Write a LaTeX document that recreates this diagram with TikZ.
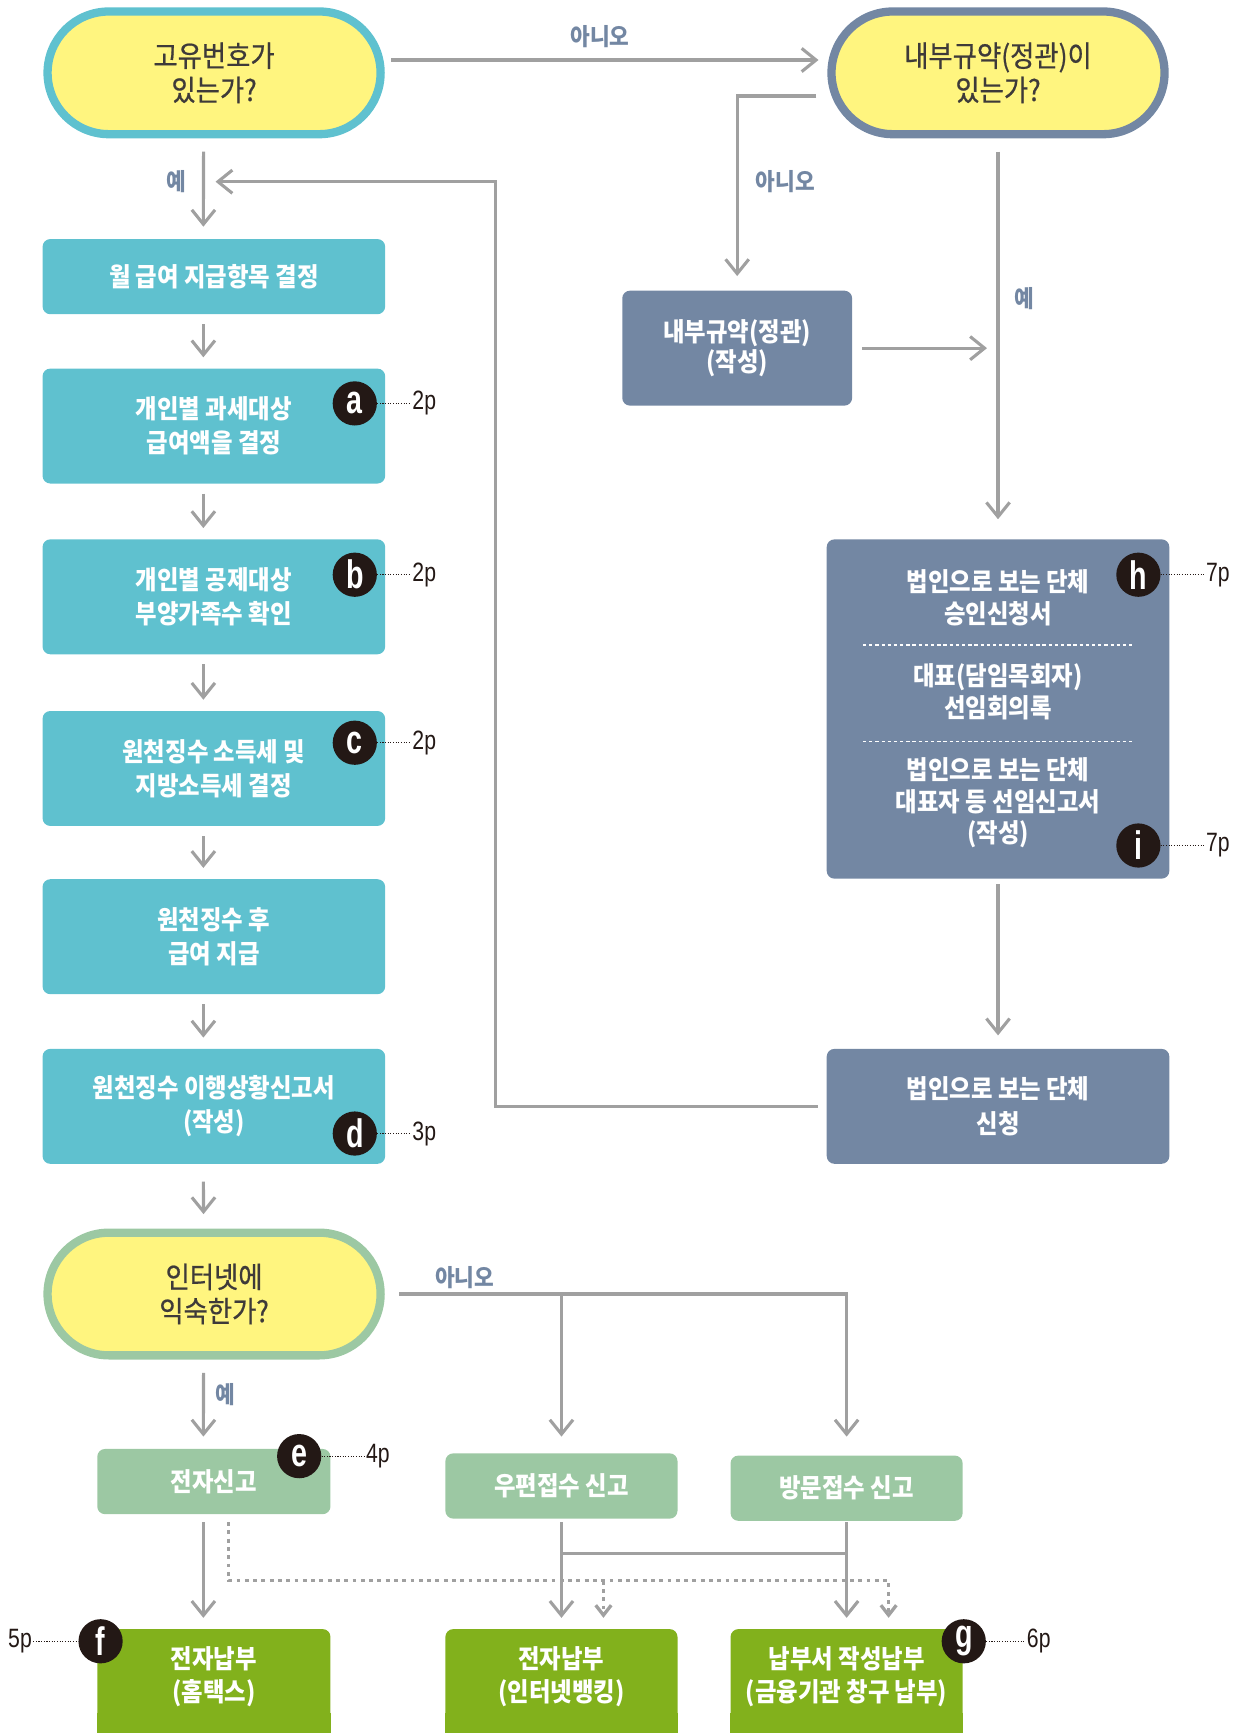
\documentclass[tikz,border=0pt]{standalone}
\usepackage{fontspec}
\usepackage{tikz}
\usetikzlibrary{arrows.meta,shapes.misc,calc}

\newfontfamily\krfont[FakeStretch=0.9]{Noto Sans CJK KR}
\newfontfamily\askfont[FakeStretch=0.9,FakeBold=0.6]{Noto Sans CJK KR}
\newfontfamily\pagefont[FakeStretch=0.8]{Liberation Sans}
\newfontfamily\tagfont[FakeStretch=0.72]{Liberation Sans}

\definecolor{stepcyan}{HTML}{5FC1CF}
\definecolor{slate}{HTML}{7387A3}
\definecolor{askyellow}{HTML}{FFF57F}
\definecolor{mint}{HTML}{9CC8A3}
\definecolor{leaf}{HTML}{82B11C}
\definecolor{linegray}{HTML}{A0A0A0}
\definecolor{ink}{HTML}{231815}
\definecolor{asktext}{HTML}{3E3A39}

\tikzset{
  ask/.style={rounded rectangle, fill=askyellow, line width=7.5pt,
    minimum width=308pt, minimum height=111pt, align=center, text=asktext,
    font=\askfont\fontsize{26.5}{31}\selectfont},
  stepbox/.style={rectangle, rounded corners=7pt, fill=stepcyan, text=white,
    minimum width=310pt, minimum height=104pt, align=center,
    font=\krfont\bfseries\fontsize{23.5}{31}\selectfont},
  filebox/.style={stepbox, fill=mint, minimum width=210pt, minimum height=59pt},
  paybox/.style={stepbox, fill=leaf, minimum width=210pt, minimum height=86pt,
    font=\krfont\bfseries\fontsize{23.5}{30}\selectfont},
  answer/.style={text=slate, font=\krfont\bfseries\fontsize{21.5}{21.5}\selectfont},
  conn/.style={draw=linegray, line width=2.8pt},
  arr/.style={conn, -{Straight Barb[length=13pt,width=21pt]}},
  dotarr/.style={draw=linegray, line width=3pt, dash pattern=on 3.5pt off 4pt,
    -{Straight Barb[length=9pt,width=14pt]}},
  tag/.style={circle, fill=ink, text=white, minimum size=40pt, inner sep=0pt,
    font=\tagfont\bfseries\fontsize{36}{36}\selectfont},
  pg/.style={text=ink, inner sep=1pt, font=\pagefont\fontsize{24}{24}\selectfont},
  lead/.style={draw=ink, line width=0.9pt, dash pattern=on 1pt off 1.4pt},
  sep/.style={draw=white, line width=1.4pt, dash pattern=on 3pt off 2.6pt}
}

\begin{document}
\begin{tikzpicture}[x=1pt,y=-1pt]
\useasboundingbox (0,0) rectangle (1124,1568);
\clip (0,0) rectangle (1124,1568);

% Questions
\node[ask, draw=stepcyan] (q1) at (193.7,65.9) {고유번호가\\있는가?};
\node[ask, draw=slate] (q2) at (903,65.9) {내부규약(정관)이\\있는가?};
\node[ask, draw=mint] (q3) at (193.7,1170.8) {인터넷에\\익숙한가?};

% Left column steps
\node[stepbox, minimum height=68pt] (b1) at (193.5,250.3) {월 급여 지급항목 결정};
\node[stepbox] (b2) at (193.5,385.5) {개인별 과세대상\\급여액을 결정};
\node[stepbox] (b3) at (193.5,540) {개인별 공제대상\\부양가족수 확인};
\node[stepbox] (b4) at (193.5,695.3) {원천징수 소득세 및\\지방소득세 결정};
\node[stepbox] (b5) at (193.5,847.5) {원천징수 후\\급여 지급};
\node[stepbox] (b6) at (193.5,1001) {원천징수 이행상황신고서\\(작성)};

% Right column
\node[stepbox, fill=slate, minimum width=208pt,
  font=\krfont\bfseries\fontsize{23.5}{27}\selectfont] (rules) at (667,315) {내부규약(정관)\\(작성)};
\node[stepbox, fill=slate, minimum height=307pt,
  font=\krfont\bfseries\fontsize{23.5}{28.5}\selectfont] (reg) at (903,641.5)
  {법인으로 보는 단체\\승인신청서\\[28pt]대표(담임목회자)\\선임회의록\\[28pt]법인으로 보는 단체\\대표자 등 선임신고서\\(작성)};
\draw[sep] ($(reg.north west)+(33,96)$) -- ($(reg.north east)+(-34,96)$);
\draw[sep] ($(reg.north west)+(33,183)$) -- ($(reg.north east)+(-34,183)$);
\node[stepbox, fill=slate] (apply) at (903,1001) {법인으로 보는 단체\\신청};

% Filing and payment
\node[filebox, minimum width=211pt] (efile) at (193.5,1340.5) {전자신고};
\node[filebox] (post) at (508,1344.5) {우편접수 신고};
\node[filebox] (visit) at (766,1346.5) {방문접수 신고};
\node[paybox, minimum width=211pt] (pay1) at (193.5,1517) {전자납부\\(홈택스)};
\node[paybox] (pay2) at (508,1517) {전자납부\\(인터넷뱅킹)};
\node[paybox] (pay3) at (766,1517) {납부서 작성납부\\(금융기관 창구 납부)};
\fill[leaf] ([yshift=10pt]pay1.south west) rectangle ([yshift=-30pt]pay1.south east);
\fill[leaf] ([yshift=10pt]pay2.south west) rectangle ([yshift=-30pt]pay2.south east);
\fill[leaf] ([yshift=10pt]pay3.south west) rectangle ([yshift=-30pt]pay3.south east);

% Top connectors
\draw[arr, shorten <=6pt, shorten >=8pt] ([yshift=11.6pt]q1.east) -- ([yshift=11.6pt]q2.west);
\node[answer] (no1) at (543,33) {아니오};
\draw[arr, shorten <=12pt, shorten >=11pt] ([xshift=-9.5pt]q1.south) -- ([xshift=-9.5pt]b1.north);
\node[answer] (yes1) at (159.5,164.4) {예};
\draw[arr, shorten <=10pt, shorten >=13pt] ([yshift=-21pt]q2.west) -| (rules.north);
\node[answer] (no2) at (710.5,164.4) {아니오};
\draw[arr, shorten <=12pt, shorten >=18pt] (q2.south) -- (reg.north);
\node[answer] (yes2) at (927,270) {예};
\draw[arr, shorten <=8.6pt, shorten >=10pt] (rules.east) -- (rules.east -| reg.north);
\draw[arr, shorten <=5pt, shorten >=12pt] (reg.south) -- (apply.north);

% Back to the left column
\coordinate (bend) at (448,164.4);
\coordinate (merge) at (184,164.4);
\draw[arr, shorten <=8pt, shorten >=11pt] (apply.west) -| (bend) -- (merge);

% Left column connectors
\draw[arr, shorten <=9pt, shorten >=10pt] ([xshift=-9.5pt]b1.south) -- ([xshift=-9.5pt]b2.north);
\draw[arr, shorten <=9pt, shorten >=10pt] ([xshift=-9.5pt]b2.south) -- ([xshift=-9.5pt]b3.north);
\draw[arr, shorten <=9pt, shorten >=10pt] ([xshift=-9.5pt]b3.south) -- ([xshift=-9.5pt]b4.north);
\draw[arr, shorten <=9pt, shorten >=10pt] ([xshift=-9.5pt]b4.south) -- ([xshift=-9.5pt]b5.north);
\draw[arr, shorten <=9pt, shorten >=10pt] ([xshift=-9.5pt]b5.south) -- ([xshift=-9.5pt]b6.north);
\draw[arr, shorten <=16pt, shorten >=13pt] ([xshift=-9.5pt]b6.south) -- ([xshift=-9.5pt]q3.north);

% Bottom connectors
\draw[arr, shorten <=12pt, shorten >=11pt] ([xshift=-9.5pt]q3.south) -- ([xshift=-9.5pt]efile.north);
\node[answer] (yes3) at (204,1262) {예};
\draw[arr, shorten <=13pt, shorten >=17pt] (q3.east) -| (visit.north);
\draw[arr, shorten >=15pt] (q3.east -| post.north) -- (post.north);
\node[answer] (no3) at (420.5,1155.5) {아니오};
\draw[arr, shorten <=7pt, shorten >=10pt] ([xshift=-9.5pt]efile.south) -- ([xshift=-9.5pt]pay1.north);
\draw[arr, shorten <=3pt, shorten >=10pt] (post.south) -- (pay2.north);
\draw[arr, shorten <=1pt, shorten >=10pt] (visit.south) -- (pay3.north);
\draw[conn] ($(post.south)+(0,31)$) -- ($(visit.south)+(0,29)$);
\draw[dotarr, shorten <=7pt, shorten >=10pt] ([xshift=13.5pt]efile.south) -- ++(0,60) coordinate (dotrow) -| ([xshift=38pt]pay3.north);
\draw[dotarr, shorten >=10pt] ([xshift=38pt]dotrow -| pay2.north) -- ([xshift=38pt]pay2.north);

% Page tags
\node[tag] (ta) at (321,365) {a};
\node[pg, anchor=west] (pa) at (372,365) {2p};
\draw[lead] (ta) -- (pa);
\node[tag] (tb) at (321,520) {b};
\node[pg, anchor=west] (pb) at (372,520) {2p};
\draw[lead] (tb) -- (pb);
\node[tag] (tc) at (321,672) {c};
\node[pg, anchor=west] (pc) at (372,672) {2p};
\draw[lead] (tc) -- (pc);
\node[tag] (td) at (321,1025.6) {d};
\node[pg, anchor=west] (pd) at (372,1025.6) {3p};
\draw[lead] (td) -- (pd);
\node[tag] (te) at (270.7,1317.5) {e};
\node[pg, anchor=west] (pe) at (330,1317.5) {4p};
\draw[lead] (te) -- (pe);
\node[tag] (tf) at (91,1485) {f};
\node[pg, anchor=east] (pf) at (30,1485) {5p};
\draw[lead] (pf) -- (tf);
\node[tag] (tg) at (872,1485) {g};
\node[pg, anchor=west] (pg) at (928,1485) {6p};
\draw[lead] (tg) -- (pg);
\node[tag] (th) at (1030,520) {h};
\node[pg, anchor=west] (ph) at (1090,520) {7p};
\draw[lead] (th) -- (ph);
\node[tag] (ti) at (1030,765) {i};
\node[pg, anchor=west] (pi) at (1090,765) {7p};
\draw[lead] (ti) -- (pi);
\end{tikzpicture}
\end{document}
